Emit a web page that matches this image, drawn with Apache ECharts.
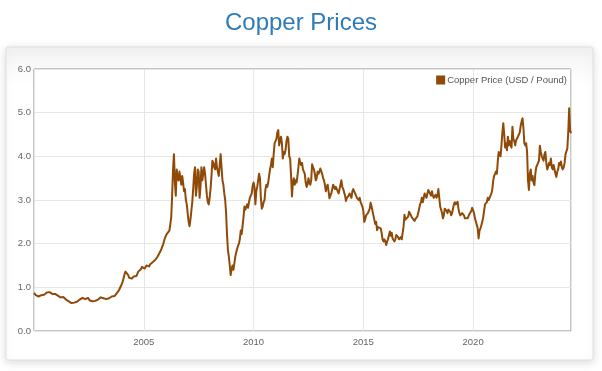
<!DOCTYPE html>
<html><head><meta charset="utf-8">
<script src="https://cdn.jsdelivr.net/npm/echarts@6/dist/echarts.min.js"></script>
<style>html,body{margin:0;padding:0;background:#fff}#c{width:602px;height:371px}</style>
</head><body><div id="c"></div>
<script>
const chartTitle = 'Copper Prices';
const seriesName = 'Copper Price (USD / Pound)';
const yTicks = [0, 1, 2, 3, 4, 5, 6];
const xTicks = [2005, 2010, 2015, 2020];
// semi-monthly readings (1st and 16th of each month), USD / pound
const y2000 = [0.87,0.84,0.82,0.80,0.81,0.79,0.78,0.80,0.82,0.84,0.80,0.83,0.84,0.86,0.88,0.90,0.92,0.89,0.87,0.88,0.85,0.84,0.86,0.85];
const y2001 = [0.83,0.82,0.81,0.80,0.79,0.77,0.77,0.78,0.78,0.76,0.74,0.72,0.71,0.70,0.68,0.67,0.66,0.64,0.62,0.63,0.65,0.66,0.68,0.67];
const y2002 = [0.70,0.71,0.72,0.74,0.75,0.76,0.74,0.73,0.73,0.75,0.77,0.76,0.73,0.70,0.68,0.67,0.68,0.66,0.68,0.69,0.71,0.73,0.72,0.72];
const y2003 = [0.75,0.77,0.78,0.76,0.75,0.73,0.72,0.73,0.75,0.77,0.75,0.76,0.78,0.79,0.80,0.81,0.80,0.82,0.84,0.88,0.92,0.94,0.98,1.03];
const y2004 = [1.08,1.13,1.22,1.30,1.36,1.38,1.36,1.28,1.22,1.18,1.24,1.20,1.22,1.25,1.26,1.28,1.26,1.30,1.36,1.32,1.38,1.42,1.47,1.44];
const y2005 = [1.46,1.43,1.46,1.50,1.52,1.50,1.48,1.53,1.50,1.55,1.58,1.60,1.60,1.64,1.66,1.70,1.74,1.78,1.80,1.86,1.92,1.97,2.05,2.12];
const y2006 = [2.16,2.22,2.25,2.20,2.30,2.45,2.60,3.10,3.70,4.05,3.40,3.10,3.70,3.50,3.45,3.65,3.50,3.35,3.55,3.40,3.20,3.25,3.00,2.90];
const y2007 = [2.70,2.50,2.40,2.55,2.75,2.95,3.25,3.60,3.75,3.10,3.30,3.70,3.65,3.05,3.30,3.75,3.45,3.60,3.75,3.60,3.35,3.10,2.95,2.90];
const y2008 = [3.05,3.25,3.55,3.90,3.85,3.75,3.70,3.95,3.75,3.65,3.55,3.80,4.05,3.75,3.45,3.35,3.15,3.00,2.70,2.20,1.85,1.70,1.50,1.28];
const y2009 = [1.42,1.50,1.40,1.55,1.70,1.80,1.88,1.95,2.00,2.10,2.30,2.22,2.40,2.60,2.85,2.78,2.75,2.90,2.82,2.95,3.05,3.10,3.15,3.32];
const y2010 = [3.40,3.30,2.90,3.20,3.30,3.45,3.60,3.50,3.05,2.80,2.85,2.95,3.00,3.25,3.35,3.30,3.40,3.55,3.70,3.80,3.95,3.75,4.05,4.30];
const y2011 = [4.35,4.40,4.55,4.60,4.25,4.35,4.45,4.30,3.95,4.10,4.05,4.15,4.35,4.45,4.40,4.00,3.95,3.55,3.08,3.40,3.50,3.35,3.45,3.40];
const y2012 = [3.55,3.75,3.95,3.85,3.80,3.85,3.70,3.65,3.60,3.40,3.30,3.35,3.50,3.40,3.35,3.45,3.82,3.75,3.70,3.60,3.45,3.50,3.65,3.60];
const y2013 = [3.65,3.72,3.76,3.60,3.50,3.45,3.35,3.20,3.30,3.35,3.20,3.04,3.10,3.15,3.25,3.35,3.30,3.25,3.30,3.25,3.20,3.15,3.25,3.35];
const y2014 = [3.45,3.30,3.25,3.25,3.10,2.98,3.05,3.05,3.10,3.15,3.10,3.05,3.20,3.25,3.20,3.15,3.10,3.05,3.05,3.00,3.05,2.95,2.95,2.85];
const y2015 = [2.75,2.50,2.55,2.65,2.65,2.70,2.70,2.80,2.94,2.85,2.75,2.65,2.55,2.45,2.50,2.31,2.38,2.35,2.40,2.35,2.25,2.10,2.05,2.10];
const y2016 = [2.05,1.97,2.05,2.10,2.20,2.28,2.18,2.25,2.12,2.08,2.05,2.10,2.20,2.16,2.15,2.10,2.12,2.15,2.10,2.12,2.40,2.66,2.55,2.58];
const y2017 = [2.55,2.62,2.73,2.75,2.65,2.60,2.60,2.58,2.52,2.57,2.60,2.62,2.70,2.80,2.90,2.95,3.05,2.95,2.95,3.15,3.10,3.05,3.05,3.23];
const y2018 = [3.20,3.19,3.10,3.20,3.10,3.05,3.05,3.12,3.05,3.10,3.25,3.29,2.85,2.78,2.70,2.58,2.65,2.80,2.80,2.75,2.70,2.78,2.75,2.73];
const y2019 = [2.65,2.70,2.80,2.90,2.95,2.90,2.92,2.96,2.80,2.70,2.65,2.68,2.70,2.72,2.65,2.58,2.60,2.62,2.58,2.62,2.68,2.65,2.75,2.82];
const y2020 = [2.85,2.70,2.58,2.60,2.55,2.35,2.12,2.30,2.35,2.42,2.50,2.60,2.75,2.90,2.88,2.95,3.05,3.00,3.05,3.10,3.15,3.25,3.45,3.55];
const y2021 = [3.55,3.65,3.60,3.90,4.10,4.05,4.00,4.26,4.55,4.76,4.50,4.20,4.30,4.14,4.45,4.25,4.35,4.25,4.20,4.68,4.40,4.35,4.25,4.37];
const y2022 = [4.40,4.45,4.50,4.55,4.70,4.80,4.87,4.65,4.30,4.25,4.30,4.10,3.45,3.23,3.60,3.70,3.45,3.55,3.40,3.34,3.60,3.75,3.80,3.85];
const y2023 = [3.90,4.24,4.10,4.00,4.00,3.90,4.05,4.10,3.85,3.70,3.76,3.85,3.80,3.95,3.75,3.70,3.80,3.70,3.60,3.53,3.65,3.70,3.85,3.80];
const y2024 = [3.88,3.75,3.70,3.75,3.85,4.05,4.05,4.18,4.55,5.10,4.60,4.53];
const yearRows = [
  [2000, y2000], [2001, y2001], [2002, y2002], [2003, y2003], [2004, y2004],
  [2005, y2005], [2006, y2006], [2007, y2007], [2008, y2008], [2009, y2009],
  [2010, y2010], [2011, y2011], [2012, y2012], [2013, y2013], [2014, y2014],
  [2015, y2015], [2016, y2016], [2017, y2017], [2018, y2018], [2019, y2019],
  [2020, y2020], [2021, y2021], [2022, y2022], [2023, y2023], [2024, y2024]
];

const data = [];
yearRows.forEach(([yr, arr]) => {
  arr.forEach((v, i) => data.push([yr + i / 24, v]));
});
const xMin = data[0][0];
const xMax = data[data.length - 1][0];

const lineColor = '#8f4a08';
const chart = echarts.init(document.getElementById('c'), null, {renderer: 'canvas'});
chart.setOption({
  animation: false,
  backgroundColor: '#ffffff',
  title: {
    text: chartTitle, left: 'center', top: 6,
    textStyle: {color: '#2e7bb7', fontSize: 24, fontWeight: 'normal', fontFamily: 'Liberation Sans, Arial, sans-serif'}
  },
  graphic: [{
    type: 'rect', z: -10, silent: true,
    shape: {x: 6, y: 47, width: 587, height: 313, r: 2},
    style: {
      fill: new echarts.graphic.LinearGradient(0, 0, 0, 1, [
        {offset: 0, color: '#f2f2f2'}, {offset: 0.12, color: '#ffffff'}, {offset: 1, color: '#ffffff'}
      ]),
      stroke: '#e0e0e0', lineWidth: 1,
      shadowBlur: 9, shadowOffsetY: 2, shadowColor: 'rgba(0,0,0,0.14)'
    }
  }],
  legend: {
    data: [seriesName], right: 35, top: 75, padding: 0,
    itemWidth: 9, itemHeight: 9, icon: 'rect',
    textStyle: {color: '#555', fontSize: 9.5, fontFamily: 'Liberation Sans, Arial, sans-serif', padding: [0, 0, 0, -3]}
  },
  grid: {
    left: 34, top: 69, width: 537, height: 262,
    show: true, borderColor: '#8c8c8c', borderWidth: 1, backgroundColor: '#ffffff'
  },
  xAxis: {
    type: 'value', min: xMin, max: xMax, interval: 5,
    axisLine: {show: false}, axisTick: {show: false},
    splitLine: {show: true, lineStyle: {color: '#e6e6e6', width: 1}},
    axisLabel: {
      show: true, margin: 6, color: '#666', fontSize: 9.5, fontFamily: 'Liberation Sans, Arial, sans-serif',
      showMinLabel: false, showMaxLabel: false,
      formatter: v => xTicks.includes(Math.round(v * 1000) / 1000) ? String(v) : ''
    }
  },
  yAxis: {
    type: 'value', min: yTicks[0], max: yTicks[yTicks.length - 1], interval: 1,
    axisLine: {show: false}, axisTick: {show: false},
    splitLine: {show: true, lineStyle: {color: '#e6e6e6', width: 1}},
    axisLabel: {margin: 3, color: '#666', fontSize: 9.5, fontFamily: 'Liberation Sans, Arial, sans-serif', formatter: v => v.toFixed(1)}
  },
  series: [{
    name: seriesName, type: 'line', data: data, showSymbol: false, symbol: 'none',
    lineStyle: {color: lineColor, width: 2, join: 'round'}, itemStyle: {color: lineColor},
    clip: true
  }]
});
</script></body></html>
